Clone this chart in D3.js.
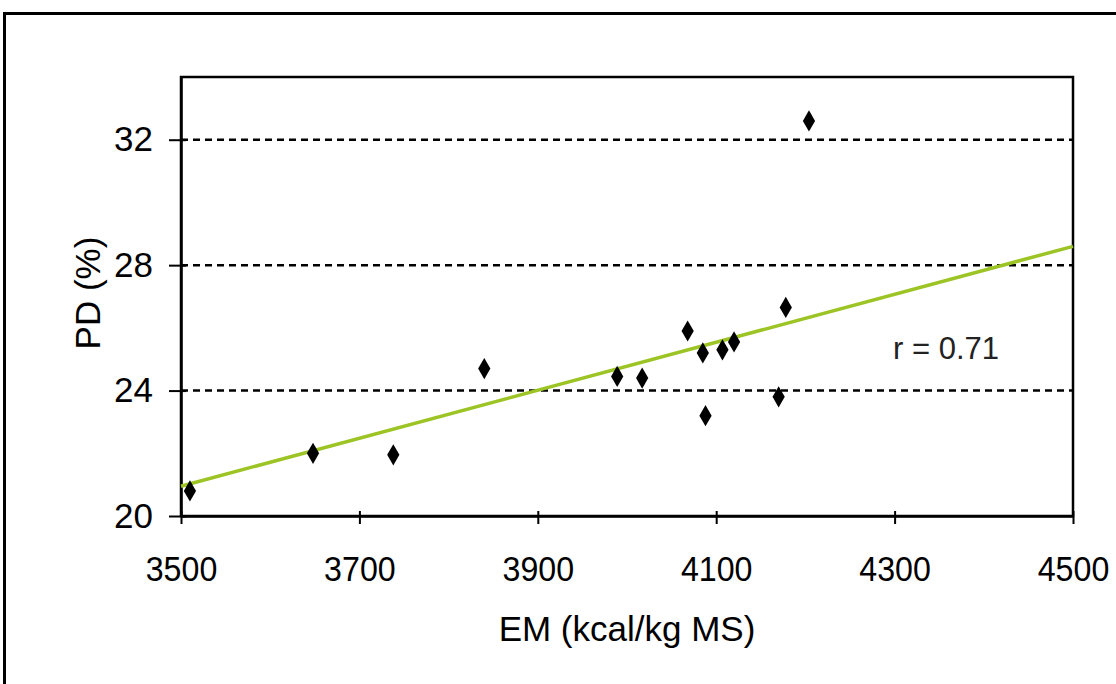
<!DOCTYPE html>
<html>
<head>
<meta charset="utf-8">
<script src="https://cdn.jsdelivr.net/npm/d3@7"></script>
<style>
  body { margin: 0; background: #fff; }
  svg text { font-family: "Liberation Sans", Arial, sans-serif; }
</style>
</head>
<body>
<div id="chart"></div>
<script>
// energy (kcal/kg MS) and PD (%)
var emValues = [3510, 3648, 3738, 3840, 3989, 4017, 4068, 4085, 4088, 4107, 4120, 4170, 4178, 4204];
var pdValues = [20.8, 22.0, 21.95, 24.7, 24.45, 24.4, 25.9, 25.2, 23.2, 25.3, 25.55, 23.8, 26.65, 32.6];
var trendX = [3500, 4500];
var trendY = [20.95, 28.6];
var xTicks = [3500, 3700, 3900, 4100, 4300, 4500];
var yTicks = [20, 24, 28, 32];
var gridTicks = [24, 28, 32];

var margin = {top: 77, left: 181};
var width = 1073 - 181,
    height = 516 - 77;

var svg = d3.select('#chart').append('svg')
    .attr('width', 1116)
    .attr('height', 684);

// outer frame, runs off the right and bottom edges
svg.append('rect')
    .attr('x', 4.5).attr('y', 13.5)
    .attr('width', 1300).attr('height', 900)
    .attr('fill', 'none')
    .attr('stroke', '#000')
    .attr('stroke-width', 3);

var g = svg.append('g')
    .attr('transform', 'translate(' + margin.left + ',' + margin.top + ')');

var x = d3.scaleLinear().domain([3500, 4500]).range([0, width]);
var y = d3.scaleLinear().domain([20, 34]).range([height, 0]);

// dashed grid
g.selectAll('.grid')
    .data(gridTicks)
    .enter().append('line')
    .attr('class', 'grid')
    .attr('x1', 0).attr('x2', width)
    .attr('y1', function (d) { return y(d); })
    .attr('y2', function (d) { return y(d); })
    .attr('stroke', '#000')
    .attr('stroke-width', 2.5)
    .attr('stroke-dasharray', '7,5');

// plot frame
g.append('rect')
    .attr('width', width).attr('height', height)
    .attr('fill', 'none')
    .attr('stroke', '#000')
    .attr('stroke-width', 2.5);

var xAxis = g.append('g')
    .attr('transform', 'translate(0,' + height + ')')
    .call(d3.axisBottom(x).tickValues(xTicks).tickFormat(d3.format('d'))
        .tickSize(10).tickPadding(30).tickSizeOuter(0));
xAxis.select('.domain').attr('stroke-width', 2.5);
xAxis.selectAll('.tick line').attr('stroke-width', 2).attr('y1', -5).attr('y2', 8);
xAxis.selectAll('text').attr('font-size', '35px').attr('fill', '#000')
    .attr('transform', 'scale(0.92,1)')
    .style('font-family', '"Liberation Sans", Arial, sans-serif');

var yAxis = g.append('g')
    .call(d3.axisLeft(y).tickValues(yTicks).tickSize(10).tickPadding(18).tickSizeOuter(0));
yAxis.select('.domain').attr('stroke-width', 2.5);
yAxis.selectAll('.tick line').attr('stroke-width', 2).attr('x1', -12).attr('x2', 5);
yAxis.selectAll('text').attr('font-size', '35px').attr('fill', '#000')
    .style('font-family', '"Liberation Sans", Arial, sans-serif');

// trend line
g.append('line')
    .attr('x1', x(trendX[0])).attr('y1', y(trendY[0]))
    .attr('x2', x(trendX[1])).attr('y2', y(trendY[1]))
    .attr('stroke', '#9dc425')
    .attr('stroke-width', 3.5);

// points
var diamond = d3.symbol().type(d3.symbolDiamond).size(130);
g.selectAll('.pt')
    .data(emValues)
    .enter().append('path')
    .attr('class', 'pt')
    .attr('d', diamond)
    .attr('transform', function (d, i) {
        return 'translate(' + x(d) + ',' + y(pdValues[i]) + ')';
    })
    .attr('fill', '#000');

g.append('text')
    .attr('x', 712)
    .attr('y', 282)
    .attr('font-size', '31px')
    .attr('fill', '#222')
    .text('r = 0.71');

svg.append('text')
    .attr('x', 627)
    .attr('y', 641)
    .attr('text-anchor', 'middle')
    .attr('font-size', '35px')
    .text('EM (kcal/kg MS)');

svg.append('text')
    .attr('transform', 'translate(100,293) rotate(-90)')
    .attr('text-anchor', 'middle')
    .attr('font-size', '35px')
    .text('PD (%)');
</script>
</body>
</html>
